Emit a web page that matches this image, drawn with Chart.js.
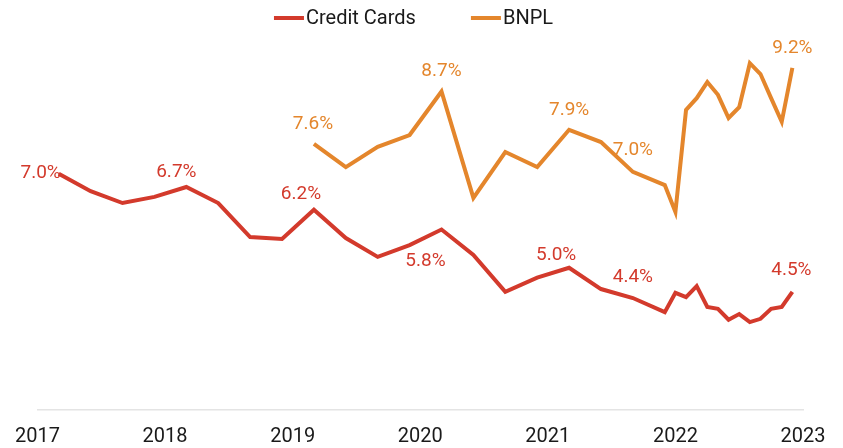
<!DOCTYPE html>
<html lang="en">
<head>
  <meta charset="UTF-8" />
  <title>Credit Cards vs BNPL</title>
  <script src="https://cdn.jsdelivr.net/npm/chart.js"></script>
  <style>
    * {
      margin: 0;
      padding: 0;
      box-sizing: border-box;
    }
    body {
      background: #fff;
      font-family: Roboto, 'Noto Sans', sans-serif;
    }
    .chart-wrap {
      width: 843px;
      height: 448px;
      position: relative;
    }
  </style>
</head>
<body>
  <div class="chart-wrap">
    <canvas id="rateChart"></canvas>
  </div>

  <script>
    const yearTicks = [2017, 2018, 2019, 2020, 2021, 2022, 2023];

    // quarterly until end of 2021, then monthly through 2022
    const ccPeriods = [
      "2017-03", "2017-06", "2017-09", "2017-12",
      "2018-03", "2018-06", "2018-09", "2018-12",
      "2019-03", "2019-06", "2019-09", "2019-12",
      "2020-03", "2020-06", "2020-09", "2020-12",
      "2021-03", "2021-06", "2021-09", "2021-12",
      "2022-01", "2022-02", "2022-03", "2022-04", "2022-05", "2022-06",
      "2022-07", "2022-08", "2022-09", "2022-10", "2022-11", "2022-12"
    ];
    const ccValues = [
      7.0, 6.63, 6.38, 6.51,
      6.72, 6.38, 5.66, 5.62,
      6.24, 5.64, 5.24, 5.49,
      5.82, 5.28, 4.50, 4.80,
      5.01, 4.56, 4.37, 4.07,
      4.48, 4.39, 4.62, 4.18, 4.14, 3.91,
      4.03, 3.86, 3.93, 4.14, 4.18, 4.50
    ];

    const bnplPeriods = [
      "2019-03", "2019-06", "2019-09", "2019-12",
      "2020-03", "2020-06", "2020-09", "2020-12",
      "2021-03", "2021-06", "2021-09", "2021-12",
      "2022-01", "2022-02", "2022-03", "2022-04", "2022-05", "2022-06",
      "2022-07", "2022-08", "2022-09", "2022-10", "2022-11", "2022-12"
    ];
    const bnplValues = [
      7.63, 7.14, 7.57, 7.82,
      8.74, 6.49, 7.46, 7.14,
      7.93, 7.67, 7.04, 6.76,
      6.19, 8.35, 8.60, 8.94, 8.67, 8.18,
      8.41, 9.34, 9.11, 8.60, 8.10, 9.24
    ];

    // which points carry a value label
    const ccLabelIdx = [0, 4, 8, 12, 16, 18, 31];
    const bnplLabelIdx = [0, 4, 8, 10, 23];

    const RED = "#d33a2c";
    const ORANGE = "#e4862c";

    function toYear(p) {
      const [y, m] = p.split("-").map(Number);
      return y + (m - 1) / 12;
    }
    function toPoints(periods, values) {
      return periods.map((p, i) => ({ x: toYear(p), y: values[i] }));
    }

    // label placement around each labelled point: [dx, dy, align]
    const labelOffsets = [
      { 0: [2, -1, "right"], 4: [-10, -15], 8: [-13, -15], 12: [-16, 32], 16: [-13, -13], 18: [0, -21], 31: [-1, -22] },
      { 0: [-1, -20], 4: [0, -20], 8: [0, -20], 10: [0, -22], 23: [0, -20] }
    ];
    const labelIdx = [ccLabelIdx, bnplLabelIdx];

    const valueLabels = {
      id: "valueLabels",
      afterDatasetsDraw(chart) {
        const ctx = chart.ctx;
        ctx.save();
        ctx.font = "19px Roboto";
        ctx.textBaseline = "middle";
        chart.data.datasets.forEach((ds, d) => {
          const meta = chart.getDatasetMeta(d);
          ctx.fillStyle = ds.borderColor;
          labelIdx[d].forEach(i => {
            const pt = meta.data[i];
            const off = labelOffsets[d][i] || [0, -20];
            ctx.textAlign = off[2] || "center";
            ctx.fillText(ds.data[i].y.toFixed(1) + "%", pt.x + off[0], pt.y + off[1]);
          });
        });
        ctx.restore();
      }
    };

    const topLegend = {
      id: "topLegend",
      afterDraw(chart) {
        const ctx = chart.ctx;
        ctx.save();
        ctx.font = "20px Roboto";
        ctx.textBaseline = "middle";
        ctx.textAlign = "left";
        const lineW = 30, gap = 2, itemGap = 55, y = 18;
        const items = chart.data.datasets.map(ds => ({
          text: ds.label, color: ds.borderColor, w: ctx.measureText(ds.label).width
        }));
        let total = items.reduce((s, it) => s + lineW + gap + it.w, 0) + itemGap * (items.length - 1);
        let x = chart.width / 2 - total / 2 - 8;
        items.forEach(it => {
          ctx.fillStyle = it.color;
          ctx.fillRect(x, y - 2, lineW, 4);
          ctx.fillStyle = "#1a1a1a";
          ctx.fillText(it.text, x + lineW + gap, y + 1);
          x += lineW + gap + it.w + itemGap;
        });
        ctx.restore();
      }
    };

    const ctx = document.getElementById("rateChart").getContext("2d");
    new Chart(ctx, {
      type: "line",
      data: {
        datasets: [
          {
            label: "Credit Cards",
            data: toPoints(ccPeriods, ccValues),
            borderColor: RED,
            backgroundColor: RED,
            borderWidth: 4,
            pointRadius: 0,
            tension: 0
          },
          {
            label: "BNPL",
            data: toPoints(bnplPeriods, bnplValues),
            borderColor: ORANGE,
            backgroundColor: ORANGE,
            borderWidth: 4,
            pointRadius: 0,
            tension: 0
          }
        ]
      },
      options: {
        responsive: true,
        maintainAspectRatio: false,
        animation: false,
        layout: {
          padding: { top: 32, left: 35, right: 40, bottom: 1 }
        },
        plugins: {
          legend: { display: false },
          tooltip: { enabled: false }
        },
        scales: {
          x: {
            type: "linear",
            min: yearTicks[0],
            max: yearTicks[yearTicks.length - 1],
            afterBuildTicks: axis => {
              axis.ticks = yearTicks.map(v => ({ value: v }));
            },
            afterFit: axis => {
              axis.height = 37;
            },
            grid: { display: false, drawTicks: false },
            border: { display: true, color: "#e4e4e4", width: 1.5 },
            ticks: {
              padding: 15,
              color: "#1a1a1a",
              font: { family: "Roboto", size: 20 },
              maxRotation: 0,
              callback: v => String(v)
            }
          },
          y: {
            display: false,
            min: 2,
            max: 10
          }
        }
      },
      plugins: [valueLabels, topLegend]
    });
  </script>
</body>
</html>
